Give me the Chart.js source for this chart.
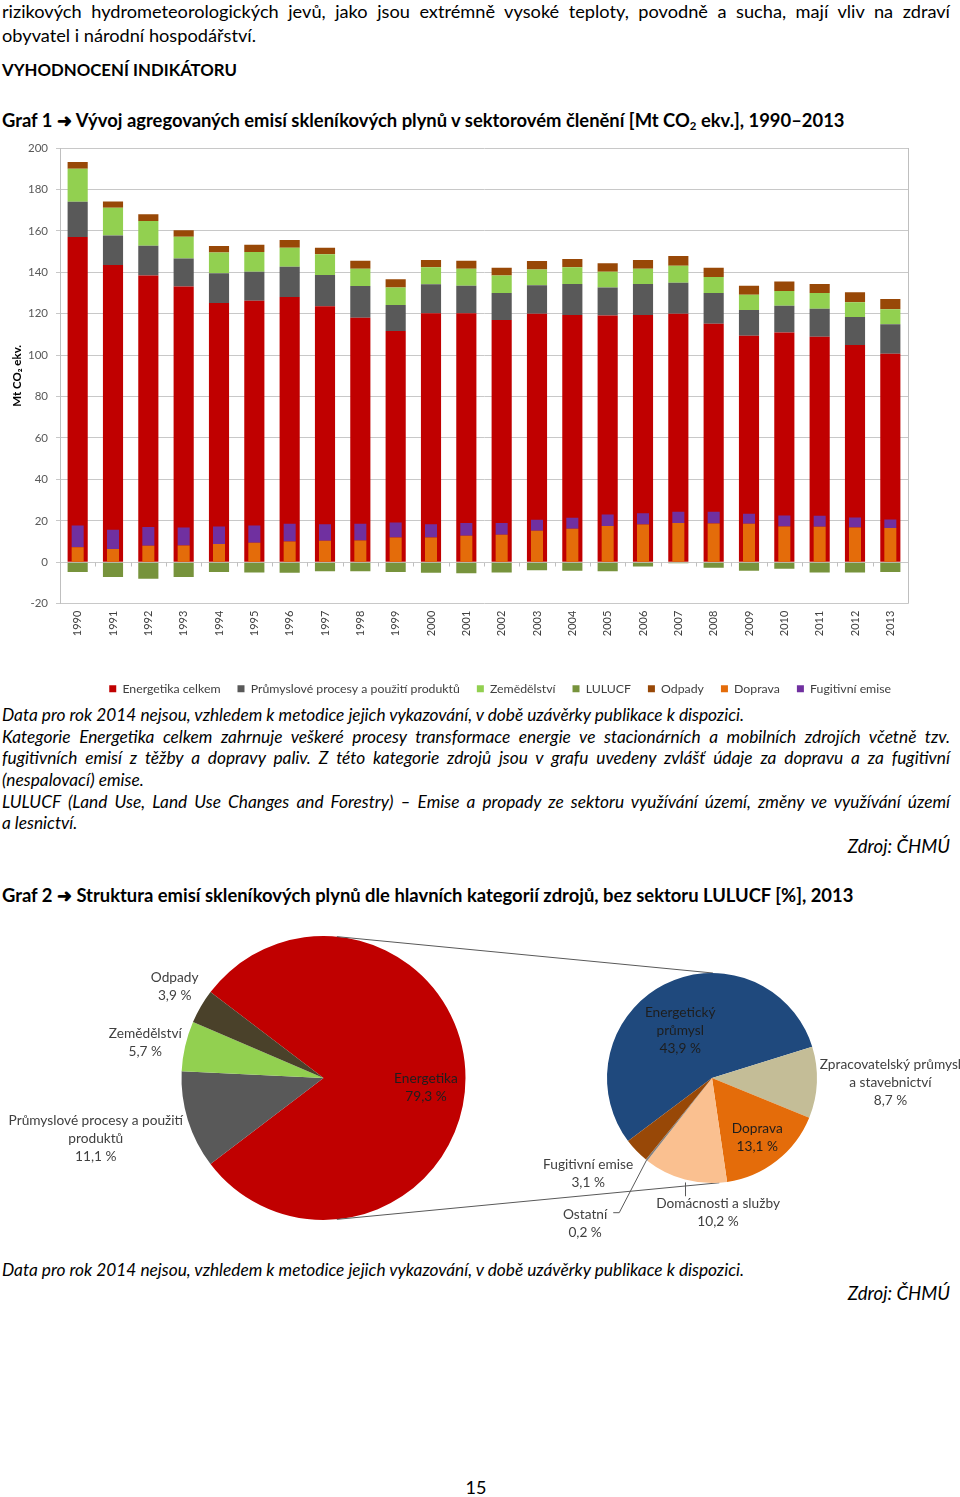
<!DOCTYPE html>
<html lang="cs">
<head>
<meta charset="utf-8">
<script src="https://cdn.jsdelivr.net/npm/chart.js@4.4.1/dist/chart.umd.min.js"></script>
<style>
  html, body { margin: 0; padding: 0; background: #fff; }
  body { width: 960px; height: 1497px; position: relative; overflow: hidden; font-family: Lato, "Open Sans", sans-serif; color: #000; }
  .t { position: absolute; left: 2px; width: 948px; white-space: nowrap; }
  .body { font-size: 18.2px; line-height: 24px; }
  .j { text-align: justify; text-align-last: justify; }
  .h { font-weight: bold; font-size: 18.4px; line-height: 24px; }
  .it { font-style: italic; font-size: 17.3px; line-height: 22px; }
  .src { text-align: right; font-style: italic; font-size: 18.6px; line-height: 24px; }
  sub { font-size: 0.62em; vertical-align: -0.25em; line-height: 0; }
  canvas { position: absolute; left: 0; }
</style>
</head>
<body>
<div class="t body j" style="top:-1px">rizikových hydrometeorologických jevů, jako jsou extrémně vysoké teploty, povodně a sucha, mají vliv na zdraví</div>
<div class="t body" style="top:23px">obyvatel i národní hospodářství.</div>
<div class="t h" style="top:58px; font-size:16.8px">VYHODNOCENÍ INDIKÁTORU</div>
<div class="t h" style="top:108px">Graf 1 ➜ Vývoj agregovaných emisí skleníkových plynů v sektorovém členění [Mt CO<sub>2</sub> ekv.], 1990–2013</div>

<div class="t it" style="top:704px">Data pro rok 2014 nejsou, vzhledem k metodice jejich vykazování, v době uzávěrky publikace k dispozici.</div>
<div class="t it j" style="top:726px">Kategorie Energetika celkem zahrnuje veškeré procesy transformace energie ve stacionárních a mobilních zdrojích včetně tzv.</div>
<div class="t it j" style="top:747px">fugitivních emisí z těžby a dopravy paliv. Z této kategorie zdrojů jsou v grafu uvedeny zvlášť údaje za dopravu a za fugitivní</div>
<div class="t it" style="top:769px">(nespalovací) emise.</div>
<div class="t it j" style="top:791px">LULUCF (Land Use, Land Use Changes and Forestry) – Emise a propady ze sektoru využívání území, změny ve využívání území</div>
<div class="t it" style="top:812px">a lesnictví.</div>
<div class="t src" style="top:834px">Zdroj: ČHMÚ</div>

<div class="t h" style="top:883px">Graf 2 ➜ Struktura emisí skleníkových plynů dle hlavních kategorií zdrojů, bez sektoru LULUCF [%], 2013</div>

<div class="t it" style="top:1259px">Data pro rok 2014 nejsou, vzhledem k metodice jejich vykazování, v době uzávěrky publikace k dispozici.</div>
<div class="t src" style="top:1281px">Zdroj: ČHMÚ</div>
<div class="t body" style="top:1475px; left:436px; width:80px; text-align:center; font-size:18px">15</div>

<canvas id="bars" width="960" height="580" style="top:130px"></canvas>
<canvas id="pieA" width="960" height="340" style="top:920px"></canvas>
<canvas id="pieB" width="960" height="340" style="top:920px"></canvas>

<script>
Chart.defaults.font.family = 'Lato, "Open Sans", sans-serif';
Chart.defaults.color = '#404040';

// Graf 1 - emise podle sektorů [Mt CO2 ekv.]
const years = ['1990', '1991', '1992', '1993', '1994', '1995', '1996', '1997', '1998', '1999', '2000', '2001',
               '2002', '2003', '2004', '2005', '2006', '2007', '2008', '2009', '2010', '2011', '2012', '2013'];
const energetika = [157.0, 143.5, 138.4, 133.1, 125.2, 126.3, 128.1, 123.6, 118.1, 111.7, 120.2, 120.2,
                    117.0, 120.0, 119.4, 119.1, 119.4, 120.0, 115.2, 109.4, 110.9, 108.9, 104.9, 100.7];
const prumysl = [17.1, 14.2, 14.4, 13.5, 14.3, 14.0, 14.6, 15.1, 15.3, 12.5, 14.0, 13.3,
                 13.0, 13.7, 14.9, 13.5, 14.9, 15.0, 14.8, 12.4, 13.0, 13.5, 13.5, 14.2];
const zemedelstvi = [15.9, 13.5, 11.9, 10.6, 10.0, 9.5, 9.2, 10.0, 8.3, 8.4, 8.2, 8.2,
                     8.4, 7.7, 8.1, 7.7, 7.4, 8.2, 7.7, 7.4, 7.1, 7.6, 7.1, 7.2];
const lulucf = [-4.7, -7.1, -8.0, -7.1, -4.7, -4.9, -5.1, -4.3, -4.3, -4.7, -5.1, -5.3,
                -4.9, -3.8, -4.1, -4.3, -2.0, -0.5, -2.7, -4.1, -3.1, -4.9, -4.9, -4.7];
const odpady = [3.2, 3.0, 3.3, 3.1, 3.2, 3.5, 3.7, 3.2, 3.9, 4.0, 3.5, 3.9,
                3.8, 4.0, 4.0, 4.0, 4.2, 4.7, 4.5, 4.3, 4.5, 4.3, 4.8, 5.0];
const doprava = [7.3, 6.4, 8.0, 8.1, 8.8, 9.4, 10.0, 10.4, 10.5, 12.0, 12.0, 12.8,
                 13.3, 15.2, 16.2, 17.5, 18.2, 19.0, 18.7, 18.6, 17.3, 17.1, 16.8, 16.6];
const fugitivni = [10.4, 9.3, 9.0, 8.7, 8.5, 8.4, 8.6, 8.0, 8.1, 7.2, 6.4, 6.1,
                   5.6, 5.3, 5.3, 5.6, 5.5, 5.4, 5.7, 4.8, 5.3, 5.3, 4.8, 4.1];

// Graf 2 - struktura 2013 [%]
const mainLabels = [['Energetika'], ['Průmyslové procesy a použití', 'produktů'], ['Zemědělství'], ['Odpady']];
const mainShares = [79.3, 11.1, 5.7, 3.9];
const energyLabels = [['Energetický', 'průmysl'], ['Zpracovatelský průmysl', 'a stavebnictví'], ['Doprava'],
                      ['Domácnosti a služby'], ['Ostatní'], ['Fugitivní emise']];
const energyShares = [43.9, 8.7, 13.1, 10.2, 0.2, 3.1];

const mainBar = { stack: 'main', grouped: false, barPercentage: 0.57, categoryPercentage: 1, order: 1, borderWidth: 0 };
const innerBar = { stack: 'inner', grouped: false, barPercentage: 0.34, categoryPercentage: 1, order: 0, borderWidth: 0 };

// right edge of the plot area + small tick marks on the zero line
const plotFrame = {
    id: 'plotFrame',
    beforeDatasetsDraw(chart) {
        const a = chart.chartArea, c = chart.ctx;
        const xs = chart.scales.x, y0 = Math.round(chart.scales.y.getPixelForValue(0)) + 0.5;
        c.save();
        c.strokeStyle = '#BFBFBF';
        c.lineWidth = 1;
        c.beginPath();
        c.moveTo(Math.round(a.right) + 0.5, a.top);
        c.lineTo(Math.round(a.right) + 0.5, a.bottom);
        for (let i = 1; i < years.length; i++) {
            const x = Math.round((xs.getPixelForValue(i - 1) + xs.getPixelForValue(i)) / 2) + 0.5;
            c.moveTo(x, y0);
            c.lineTo(x, y0 + 4);
        }
        c.stroke();
        c.restore();
    }
};

new Chart(document.getElementById('bars'), {
    type: 'bar',
    data: {
        labels: years,
        datasets: [
            { label: 'Energetika celkem', data: energetika, backgroundColor: '#C00000', ...mainBar },
            { label: 'Průmyslové procesy a použití produktů', data: prumysl, backgroundColor: '#595959', ...mainBar },
            { label: 'Zemědělství', data: zemedelstvi, backgroundColor: '#92D050', ...mainBar },
            { label: 'LULUCF', data: lulucf, backgroundColor: '#77933C', ...mainBar },
            { label: 'Odpady', data: odpady, backgroundColor: '#984807', ...mainBar },
            { label: 'Doprava', data: doprava, backgroundColor: '#E46C0A', ...innerBar },
            { label: 'Fugitivní emise', data: fugitivni, backgroundColor: '#7030A0', ...innerBar }
        ]
    },
    options: {
        responsive: false,
        animation: false,
        devicePixelRatio: 1,
        layout: { padding: { top: 18, left: 6, right: 52, bottom: 5 } },
        plugins: {
            legend: {
                position: 'bottom',
                align: 'end',
                labels: {
                    boxWidth: 7, boxHeight: 7, padding: 17, color: '#404040',
                    font: { size: 12.3 },
                    sort: (a, b) => a.datasetIndex - b.datasetIndex
                }
            },
            tooltip: { enabled: false }
        },
        scales: {
            x: {
                stacked: true,
                grid: { display: false, drawTicks: false },
                border: { display: false },
                ticks: { autoSkip: false, maxRotation: 90, minRotation: 90, padding: 7, font: { size: 11 }, color: '#404040' },
                afterFit: (s) => { s.height = 62; }
            },
            y: {
                stacked: true,
                min: -20, max: 200,
                ticks: { stepSize: 20, padding: 8, font: { size: 11.5 }, color: '#595959' },
                grid: { color: '#C8C8C8', tickLength: 4 },
                border: { color: '#BFBFBF' },
                title: { display: true, text: 'Mt CO₂ ekv.', color: '#000', font: { size: 11.5, weight: 'bold' }, padding: { top: 4, bottom: 0 } },
                afterFit: (s) => { s.width = 54; }
            }
        }
    },
    plugins: [plotFrame]
});

const fmt = (v) => v.toFixed(1).replace('.', ',') + ' %';

// labels of pie slices: [radius factor, angle nudge in degrees]
const pieLabels = {
    id: 'pieLabels',
    afterDatasetsDraw(chart, args, opts) {
        const ctx = chart.ctx;
        const meta = chart.getDatasetMeta(0);
        const data = chart.data.datasets[0].data;
        const lh = 18;
        ctx.save();
        ctx.font = '13.7px Lato';
        ctx.strokeStyle = '#595959';
        ctx.lineWidth = 1;
        ctx.textAlign = 'center';
        ctx.textBaseline = 'middle';
        meta.data.forEach((arc, i) => {
            const p = opts.place[i];
            const mid = (arc.startAngle + arc.endAngle) / 2;
            const a = mid + p[1] * Math.PI / 180;
            const x = arc.x + Math.cos(a) * arc.outerRadius * p[0];
            const y = arc.y + Math.sin(a) * arc.outerRadius * p[0];
            const lines = chart.data.labels[i].concat(fmt(data[i]));
            const y0 = y - (lines.length - 1) / 2 * lh;
            ctx.fillStyle = p[0] < 1 ? '#1E1E1E' : '#404040';
            lines.forEach((t, k) => ctx.fillText(t, x, y0 + k * lh));
            const lead = opts.leaders && opts.leaders[i];
            if (lead) {
                const ex = arc.x + Math.cos(mid) * arc.outerRadius;
                const ey = arc.y + Math.sin(mid) * arc.outerRadius;
                ctx.beginPath();
                if (lead === 'down') {
                    ctx.moveTo(Math.round(ex) + 0.5, ey + 3);
                    ctx.lineTo(Math.round(ex) + 0.5, y0 - 7);
                } else {
                    const right = x + ctx.measureText(lines[0]).width / 2;
                    ctx.moveTo(ex, ey);
                    ctx.lineTo(right + 12, y0 - 2);
                    ctx.lineTo(right + 6, y0 - 2);
                }
                ctx.stroke();
            }
        });
        ctx.restore();
    }
};

const pieA = new Chart(document.getElementById('pieA'), {
    type: 'pie',
    data: {
        labels: mainLabels,
        datasets: [{
            data: mainShares,
            backgroundColor: ['#C00000', '#595959', '#92D050', '#4A412A'],
            borderWidth: 0
        }]
    },
    options: {
        responsive: false,
        animation: false,
        devicePixelRatio: 1,
        rotation: 90 - mainShares[0] * 3.6 / 2,
        layout: { padding: { left: 181.5, right: 494.5, top: 16, bottom: 40 } },
        plugins: {
            legend: { display: false },
            tooltip: { enabled: false },
            pieLabels: { place: [[0.725, 5.6], [1.66, 2.3], [1.28, -1.6], [1.23, 1.3]] }
        }
    },
    plugins: [pieLabels]
});

// lines joining the two pies
const pieConnect = {
    id: 'pieConnect',
    beforeDatasetsDraw(chart) {
        const a = pieA.getDatasetMeta(0).data[0];
        const b = chart.getDatasetMeta(0).data[0];
        const ctx = chart.ctx;
        const rad = Math.PI / 180;
        ctx.save();
        ctx.strokeStyle = '#595959';
        ctx.lineWidth = 1;
        [[84.6, 89.5], [-84.6, -86]].forEach(([da, db]) => {
            ctx.beginPath();
            ctx.moveTo(a.x + Math.cos(da * rad) * a.outerRadius, a.y - Math.sin(da * rad) * a.outerRadius);
            ctx.lineTo(b.x + Math.cos(db * rad) * b.outerRadius, b.y - Math.sin(db * rad) * b.outerRadius);
            ctx.stroke();
        });
        ctx.restore();
    }
};

new Chart(document.getElementById('pieB'), {
    type: 'pie',
    data: {
        labels: energyLabels,
        datasets: [{
            data: energyShares,
            backgroundColor: ['#1F497D', '#C4BD97', '#E46C0A', '#FAC090', '#7F7F7F', '#984807'],
            borderWidth: 0
        }]
    },
    options: {
        responsive: false,
        animation: false,
        devicePixelRatio: 1,
        rotation: -126.9,
        layout: { padding: { left: 607, right: 143, top: 53, bottom: 77 } },
        plugins: {
            legend: { display: false },
            tooltip: { enabled: false },
            pieLabels: {
                place: [[0.54, -7], [1.7, -0.9], [0.71, 0.7], [1.28, -17.5], [1.84, 2.5], [1.49, 6.3]],
                leaders: [null, null, null, 'down', 'elbow', null]
            }
        }
    },
    plugins: [pieConnect, pieLabels]
});
</script>
</body>
</html>
